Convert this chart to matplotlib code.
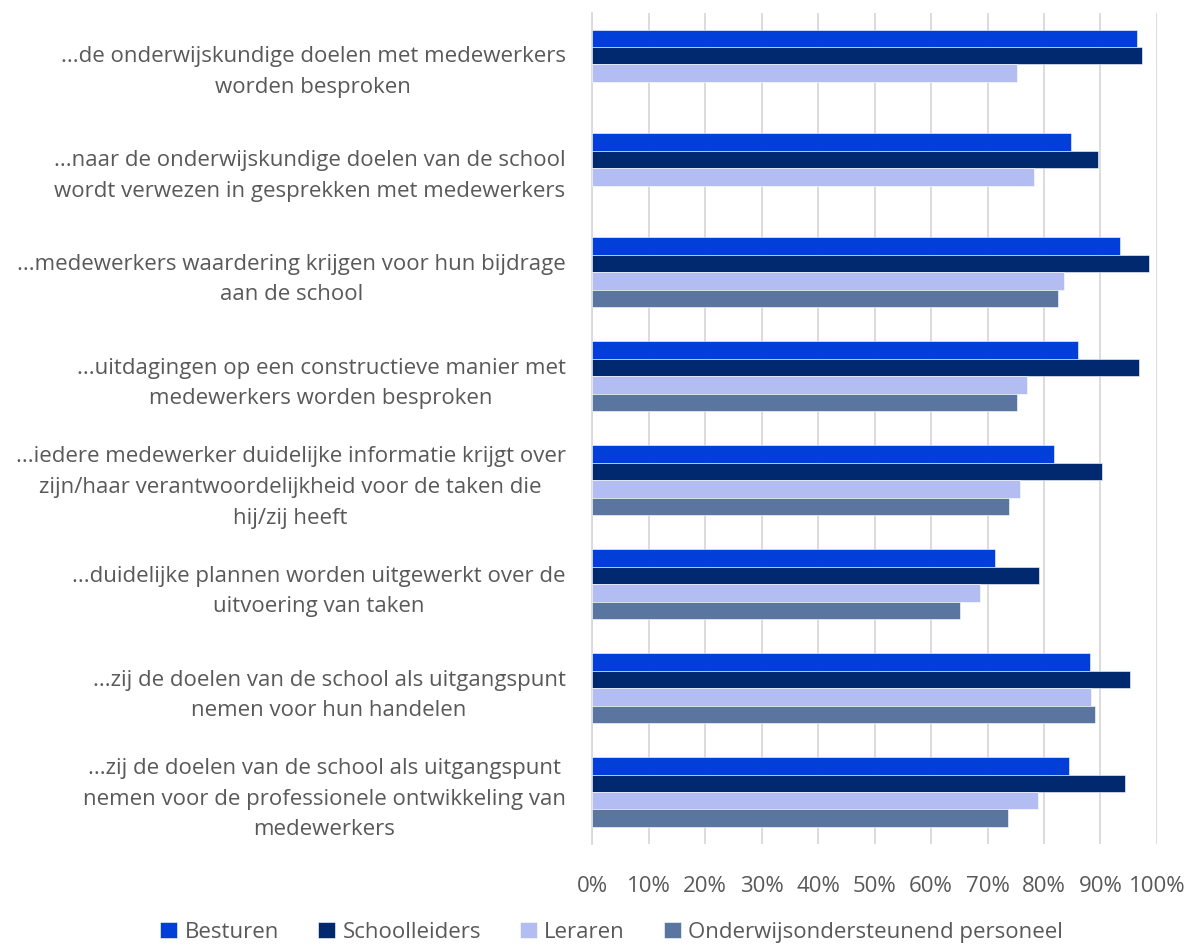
import numpy as np
import matplotlib.pyplot as plt
from matplotlib.ticker import PercentFormatter

plt.rcParams['font.family'] = ['Open Sans', 'DejaVu Sans']

categories = [
    "...de onderwijskundige doelen met medewerkers\nworden besproken",
    "...naar de onderwijskundige doelen van de school\nwordt verwezen in gesprekken met medewerkers",
    "...medewerkers waardering krijgen voor hun bijdrage\naan de school",
    "...uitdagingen op een constructieve manier met\nmedewerkers worden besproken",
    "...iedere medewerker duidelijke informatie krijgt over\nzijn/haar verantwoordelijkheid voor de taken die\nhij/zij heeft",
    "...duidelijke plannen worden uitgewerkt over de\nuitvoering van taken",
    "...zij de doelen van de school als uitgangspunt\nnemen voor hun handelen",
    "...zij de doelen van de school als uitgangspunt\nnemen voor de professionele ontwikkeling van\nmedewerkers",
]
series = ["Besturen", "Schoolleiders", "Leraren", "Onderwijsondersteunend personeel"]
besturen = [96.5, 84.7, 93.4, 86.0, 81.8, 71.3, 88.2, 84.4]
schoolleiders = [97.4, 89.6, 98.5, 96.8, 90.2, 79.1, 95.2, 94.4]
leraren = [75.3, 78.2, 83.5, 77.0, 75.7, 68.7, 88.3, 79.0]
oop = [np.nan, np.nan, 82.5, 75.2, 73.8, 65.2, 89.1, 73.6]
colors = ["#023FD9", "#002970", "#B3BDF1", "#5A76A0"]

values = [besturen, schoolleiders, leraren, oop]
text_color = "#595959"

fig = plt.figure(figsize=(11.95, 9.47), dpi=100)
ax = fig.add_axes([0.4954, 0.1088, 0.4728, 0.878])

y = np.arange(len(categories))
h = 0.168
for i, (name, vals, c) in enumerate(zip(series, values, colors)):
    ax.barh(y - 1.5 * h + i * h, np.array(vals) / 100, height=h, color=c,
            edgecolor="white", linewidth=0.4, label=name, zorder=3)

ax.set_xlim(0, 1)
ax.set_ylim(len(categories) - 0.5, -0.5)
ax.set_xticks(np.linspace(0, 1, 11))
ax.xaxis.set_major_formatter(PercentFormatter(1.0, decimals=0))
ax.set_yticks(y)
ax.set_yticklabels(categories, multialignment="center", linespacing=1.6)
ax.tick_params(axis="both", length=0, labelsize=16, colors=text_color)
ax.tick_params(axis="y", pad=19)
ax.tick_params(axis="x", pad=23)

ax.grid(axis="x", color="#D9D9D9", linewidth=1.3, zorder=0)
for s in ["top", "right", "bottom"]:
    ax.spines[s].set_visible(False)
ax.spines["left"].set_color("#D9D9D9")
ax.spines["left"].set_linewidth(1.3)

fig.legend(loc="lower center", bbox_to_anchor=(0.512, -0.017), ncol=4, frameon=False,
           fontsize=16, labelcolor=text_color, handlelength=0.75, handleheight=0.75,
           handletextpad=0.35, columnspacing=1.75)

fig.savefig("out.png", dpi=100)
